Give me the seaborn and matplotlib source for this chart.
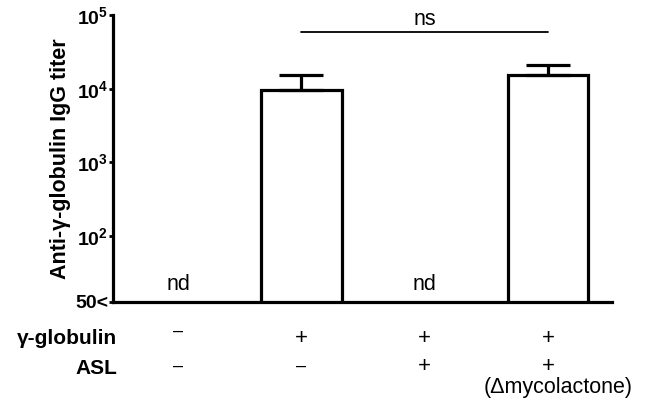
import numpy as np
import pandas as pd
import seaborn as sns
import matplotlib
matplotlib.use("Agg")
import matplotlib.pyplot as plt
import matplotlib.transforms as mtransforms

# data (nd = not detected)
groups = ["1", "2", "3", "4"]
titer = [np.nan, 9700, np.nan, 15200]
err_upper = [np.nan, 5800, np.nan, 5800]
nd_groups = [0, 2]
globulin_row = ["–", "+", "+", "+"]
asl_row = ["–", "–", "+", "+"]
y_bottom = 12.7
y_ticks = [y_bottom, 1e2, 1e3, 1e4, 1e5]
y_ticklabels = ["50<", r"$\mathbf{10^2}$", r"$\mathbf{10^3}$", r"$\mathbf{10^4}$", r"$\mathbf{10^5}$"]

sns.set_style("ticks")
plt.rcParams["font.family"] = ["Liberation Sans", "DejaVu Sans"]
plt.rcParams["mathtext.fontset"] = "custom"
plt.rcParams["mathtext.bf"] = "Liberation Sans:bold"
plt.rcParams["mathtext.rm"] = "Liberation Sans"
plt.rcParams["text.color"] = "black"
plt.rcParams["axes.edgecolor"] = "black"
plt.rcParams["axes.labelcolor"] = "black"
plt.rcParams["ytick.color"] = "black"

df = pd.DataFrame({"group": groups, "titer": titer})

fig = plt.figure(figsize=(6.51, 4.01), dpi=100)
ax = fig.add_axes([0.1736, 0.2469, 0.7664, 0.7157])

sns.barplot(data=df, x="group", y="titer", color="white", edgecolor="black",
            linewidth=2.3, width=0.65, saturation=1, ax=ax)
ax.set_yscale("log")

x = np.arange(len(groups))
yerr = np.array([np.zeros(len(groups)), err_upper])
ax.errorbar(x, titer, yerr=yerr, fmt="none", ecolor="black", elinewidth=2.3,
            capsize=16, capthick=2.3, zorder=1)

ax.set_xlim(-0.53, 3.52)
ax.set_ylim(y_bottom, 1e5)
ax.minorticks_off()
ax.set_yticks(y_ticks)
ax.set_yticklabels(y_ticklabels, fontsize=14, fontweight="bold")
ax.set_xticks([])
ax.set_xlabel("")
ax.set_ylabel("Anti-γ-globulin IgG titer", fontsize=15.5, fontweight="bold", labelpad=3)
ax.tick_params(axis="y", width=2, length=3, pad=0.5)
for s in ["left", "bottom"]:
    ax.spines[s].set_linewidth(2.3)
sns.despine(ax=ax)

# nd labels
for i in nd_groups:
    ax.text(i, 10 ** 1.267, "nd", ha="center", va="baseline", fontsize=15.5)

# significance bar
ax.plot([1, 3], [5.9e4, 5.9e4], color="black", lw=1.3, clip_on=False)
ax.text(2, 10 ** 4.864, "ns", ha="center", va="baseline", fontsize=15.5)

# treatment rows below the axis
trans = mtransforms.blended_transform_factory(ax.transData, fig.transFigure)
fig.text(117 / 651, 1 - 339 / 401, "γ-globulin", ha="right", va="center",
         fontsize=15, fontweight="bold")
fig.text(117 / 651, 1 - 368 / 401, "ASL", ha="right", va="center",
         fontsize=15, fontweight="bold")
row1_y = [331, 338, 338, 338]
row2_y = [366, 366, 367, 367]
for i, (g, a) in enumerate(zip(globulin_row, asl_row)):
    fs1 = 13 if g == "–" else 16
    fs2 = 13 if a == "–" else 16
    ax.text(i, 1 - row1_y[i] / 401, g, transform=trans, ha="center", va="center", fontsize=fs1)
    ax.text(i, 1 - row2_y[i] / 401, a, transform=trans, ha="center", va="center", fontsize=fs2)
ax.text(3.08, 1 - 387 / 401, "(Δmycolactone)", transform=trans, ha="center",
        va="center", fontsize=15.5)

fig.savefig("out.png", dpi=100)
